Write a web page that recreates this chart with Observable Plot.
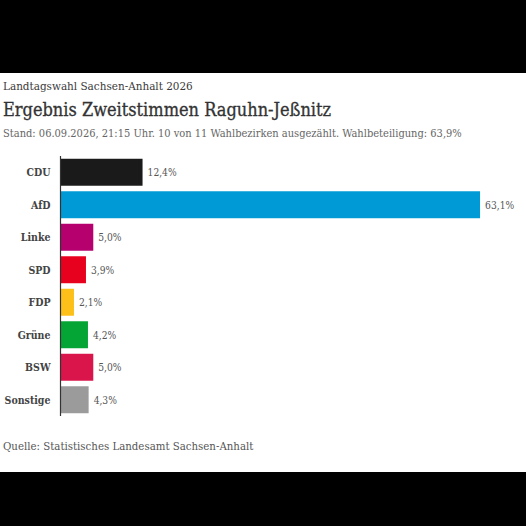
<!DOCTYPE html>
<html lang="de">
<head>
<meta charset="utf-8">
<script src="https://cdn.jsdelivr.net/npm/d3@7"></script>
<script src="https://cdn.jsdelivr.net/npm/@observablehq/plot@0.6"></script>
<style>
html,body{margin:0;padding:0;width:526px;height:526px;overflow:hidden;background:#000;}
#card{position:absolute;left:0;top:73px;width:526px;height:399px;background:#fff;font-family:"DejaVu Serif Condensed","DejaVu Serif",serif;}
#card .t{position:absolute;left:3px;white-space:nowrap;}
#kicker{top:6px;font-size:11.6px;color:#3a3a3a;}
#title{top:26px;font-size:18px;color:#333;-webkit-text-stroke:0.3px #333;}
#sub{top:54px;font-size:11px;color:#666;}
#source{top:366px;font-size:11.35px;color:#555;}
#chart{position:absolute;left:0;top:77px;}
#chart svg{display:block;}
</style>
</head>
<body>
<div id="card">
<div class="t" id="kicker">Landtagswahl Sachsen-Anhalt 2026</div>
<div class="t" id="title">Ergebnis Zweitstimmen Raguhn-Jeßnitz</div>
<div class="t" id="sub">Stand: 06.09.2026, 21:15 Uhr. 10 von 11 Wahlbezirken ausgezählt. Wahlbeteiligung: 63,9%</div>
<div id="chart"></div>
<div class="t" id="source">Quelle: Statistisches Landesamt Sachsen-Anhalt</div>
</div>
<script>
const parties = ["CDU","AfD","Linke","SPD","FDP","Grüne","BSW","Sonstige"];
const shares = [12.4,63.1,5.0,3.9,2.1,4.2,5.0,4.3];
const colors = ["#1a1a1a","#009ad6","#b5006e","#e8001f","#fdc01a","#05a535","#d9154b","#9b9b9b"];
const rows = parties.map((party,i)=>({party,share:shares[i]}));
const fmt = v => v.toFixed(1).replace(".",",")+"%";
const chart = Plot.plot({
  width:526,height:275,marginLeft:60,marginRight:0,marginTop:6,marginBottom:9,
  style:{background:"transparent",fontFamily:"'DejaVu Serif Condensed','DejaVu Serif',serif",overflow:"visible"},
  x:{domain:[0,70],axis:null},
  y:{domain:parties,paddingInner:0.17,paddingOuter:0.085,round:false,label:null,tickSize:0,tickPadding:10},
  color:{domain:parties,range:colors},
  marks:[
    Plot.axisY({fontSize:10.5,fontWeight:700,tickSize:0,tickPadding:10,label:null,color:"#444"}),
    Plot.barX(rows,{x:"share",y:"party",fill:"party"}),
    Plot.ruleX([0],{stroke:"#333",strokeWidth:1.2}),
    Plot.text(rows,{x:"share",y:"party",text:d=>fmt(d.share),textAnchor:"start",dx:4.5,fontSize:10.2,fill:"#555"})
  ]
});
document.getElementById("chart").appendChild(chart);
</script>
</body>
</html>
